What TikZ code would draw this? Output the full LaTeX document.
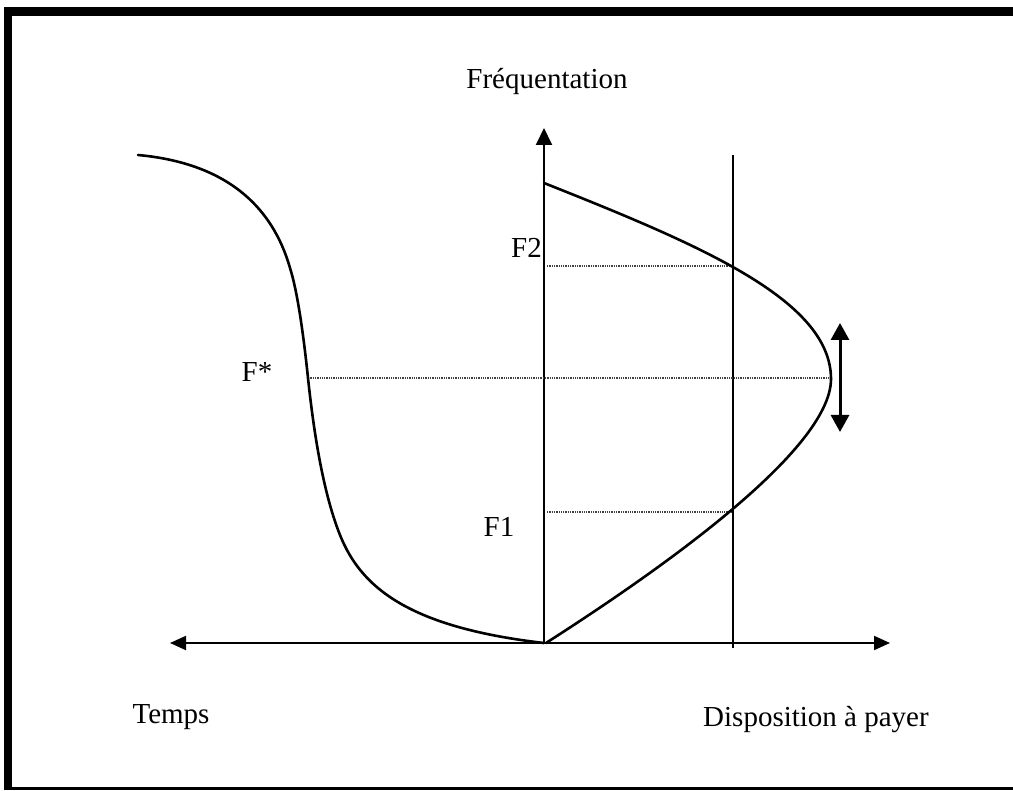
\documentclass[tikz,border=0pt]{standalone}
\usepackage{fontspec}
\setmainfont{Liberation Serif}
\usetikzlibrary{arrows.meta}
\begin{document}
\begin{tikzpicture}[x=1pt,y=-1pt,
  lbl/.style={inner sep=0pt, font=\fontsize{29}{33}\selectfont},
  axisline/.style={line width=2pt},
  curveline/.style={line width=2.6pt, line join=round, line cap=round},
  guide/.style={densely dotted, line width=1.3pt, black!75},
  twoway/.style={{Triangle[length=16pt,width=14pt]}-{Triangle[length=16pt,width=14pt]}}
]
\useasboundingbox (0,0) rectangle (1013,791);
% frame
\fill (4,7) rectangle (1013,16);
\fill (4,7) rectangle (12,790);
\fill (4,787) rectangle (1013,790);

% coordinates
\coordinate (O) at (544,643);
\coordinate (Ytop) at (544,128);
\coordinate (Xl) at (170,643);
\coordinate (Xr) at (890,643);
\coordinate (Vt) at (733,155);
\coordinate (Vb) at (733,648);
\coordinate (Dt) at (840,323);
\coordinate (Db) at (840,432);
\coordinate (Rtop) at (544,183);
\coordinate (Rtip) at (831,379);
\coordinate (Lstart) at (138,155);

% axes
\draw[axisline, twoway] (Xl) -- (Xr);
\draw[axisline, -{Triangle[length=17pt,width=16pt]}] (O) -- (Ytop);
\draw[axisline] (Vt) -- (Vb);

% labels
\node[lbl] (freq) at (547,82) {Fréquentation};
\node[lbl, anchor=east] (f2) at (542,248) {F2};
\node[lbl] (fstar) at (257,372) {F*};
\node[lbl] (f1) at (499,527) {F1};
\node[lbl] (temps) at (171,717) {Temps};
\node[lbl] (dap) at (816,720) {Disposition à payer};

% guide lines
\coordinate (g2a) at (547,266);
\coordinate (g2b) at (731,266);
\coordinate (gsa) at (308,378);
\coordinate (gsb) at (831,378);
\coordinate (g1a) at (547,512);
\coordinate (g1b) at (733,512);
\draw[guide] (g2a) -- (g2b);
\draw[guide] (gsa) -- (gsb);
\draw[guide] (g1a) -- (g1b);

% right curve
\draw[curveline] (Rtop) .. controls (700,245) and (831,300) .. (Rtip)
  .. controls (831,450) and (660,570) .. (546,643);

% left S-curve
\draw[curveline] (Lstart) .. controls (225,163) and (272,205) .. (290,268)
  .. controls (297,290) and (303,330) .. (308,378)
  .. controls (313,425) and (322,490) .. (340,535)
  .. controls (360,585) and (405,627) .. (O);

% double arrow
\draw[line width=3pt, {Triangle[length=17pt,width=18pt]}-{Triangle[length=17pt,width=18pt]}] (Dt) -- (Db);
\end{tikzpicture}
\end{document}
